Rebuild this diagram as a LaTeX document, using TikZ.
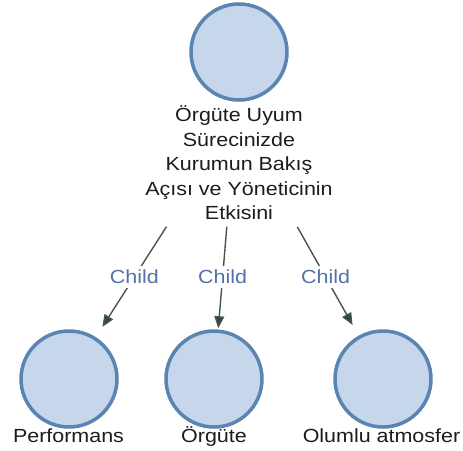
\documentclass[tikz,border=0pt]{standalone}
\usepackage{fontspec}
\setmainfont{Liberation Sans}[FakeStretch=1.13]
\usetikzlibrary{arrows.meta,calc}

\definecolor{circfill}{HTML}{C6D6EB}
\definecolor{circedge}{HTML}{5A84B2}
\definecolor{circinner}{HTML}{A9C6E6}
\definecolor{edgecol}{HTML}{46554C}
\definecolor{tipcol}{HTML}{34493D}
\definecolor{childcol}{HTML}{5670A8}
\definecolor{txtcol}{HTML}{1C1C1C}

\tikzset{
  bubble/.style={circle, minimum size=96pt, inner sep=0pt, outer sep=1pt,
    fill=circfill, draw=circedge, line width=3.5pt,
    append after command={
      \pgfextra{\draw[circinner, line width=1pt]
        (\tikzlastnode.center) circle (44.5pt);}}},
  caption/.style={font=\fontsize{19}{24.5}\selectfont, text=txtcol,
    inner sep=0pt, align=center},
  edge/.style={draw=edgecol, line width=1.4pt,
    -{Triangle[length=12pt,width=10pt,fill=tipcol]}},
  childlbl/.style={font=\fontsize{19}{22}\selectfont, text=childcol,
    fill=white, inner xsep=1pt, inner ysep=4pt}
}

\begin{document}
\begin{tikzpicture}[x=1pt, y=-1pt]
  \useasboundingbox (0,0) rectangle (463,450);

  % parent
  \node[bubble] (root) at (239,52) {};
  % base anchor of a multi-line caption sits on its last line
  \node[caption, anchor=base] (rootlbl) at (239,219.5)
    {Örgüte Uyum\\Sürecinizde\\Kurumun Bakış\\Açısı ve Yöneticinin\\Etkisini};
  \coordinate (hub) at (236,118);

  % children
  \node[bubble] (c1) at (69,379) {};
  \node[bubble] (c2) at (214,379) {};
  \node[bubble] (c3) at (383,379) {};

  \node[caption, anchor=base] (c1lbl) at (68.5,442) {Performans};
  \node[caption, anchor=base] (c2lbl) at (214,442) {Örgüte};
  \node[caption, anchor=base] (c3lbl) at (381.5,442) {Olumlu atmosfer};

  % connectors from the caption towards each child
  \draw[edge, shorten <=129pt, shorten >=13pt] (hub) -- (c1);
  \draw[edge, shorten <=109pt, shorten >=2pt] (hub) -- (c2);
  \draw[edge, shorten <=125pt, shorten >=13pt] (hub) -- (c3);

  \node[childlbl] (e1) at ($(hub)!0.609!(c1.center)$) {Child};
  \node[childlbl] (e2) at ($(hub)!0.609!(c2.center)$) {Child};
  \node[childlbl] (e3) at ($(hub)!0.609!(c3.center)$) {Child};
\end{tikzpicture}
\end{document}
